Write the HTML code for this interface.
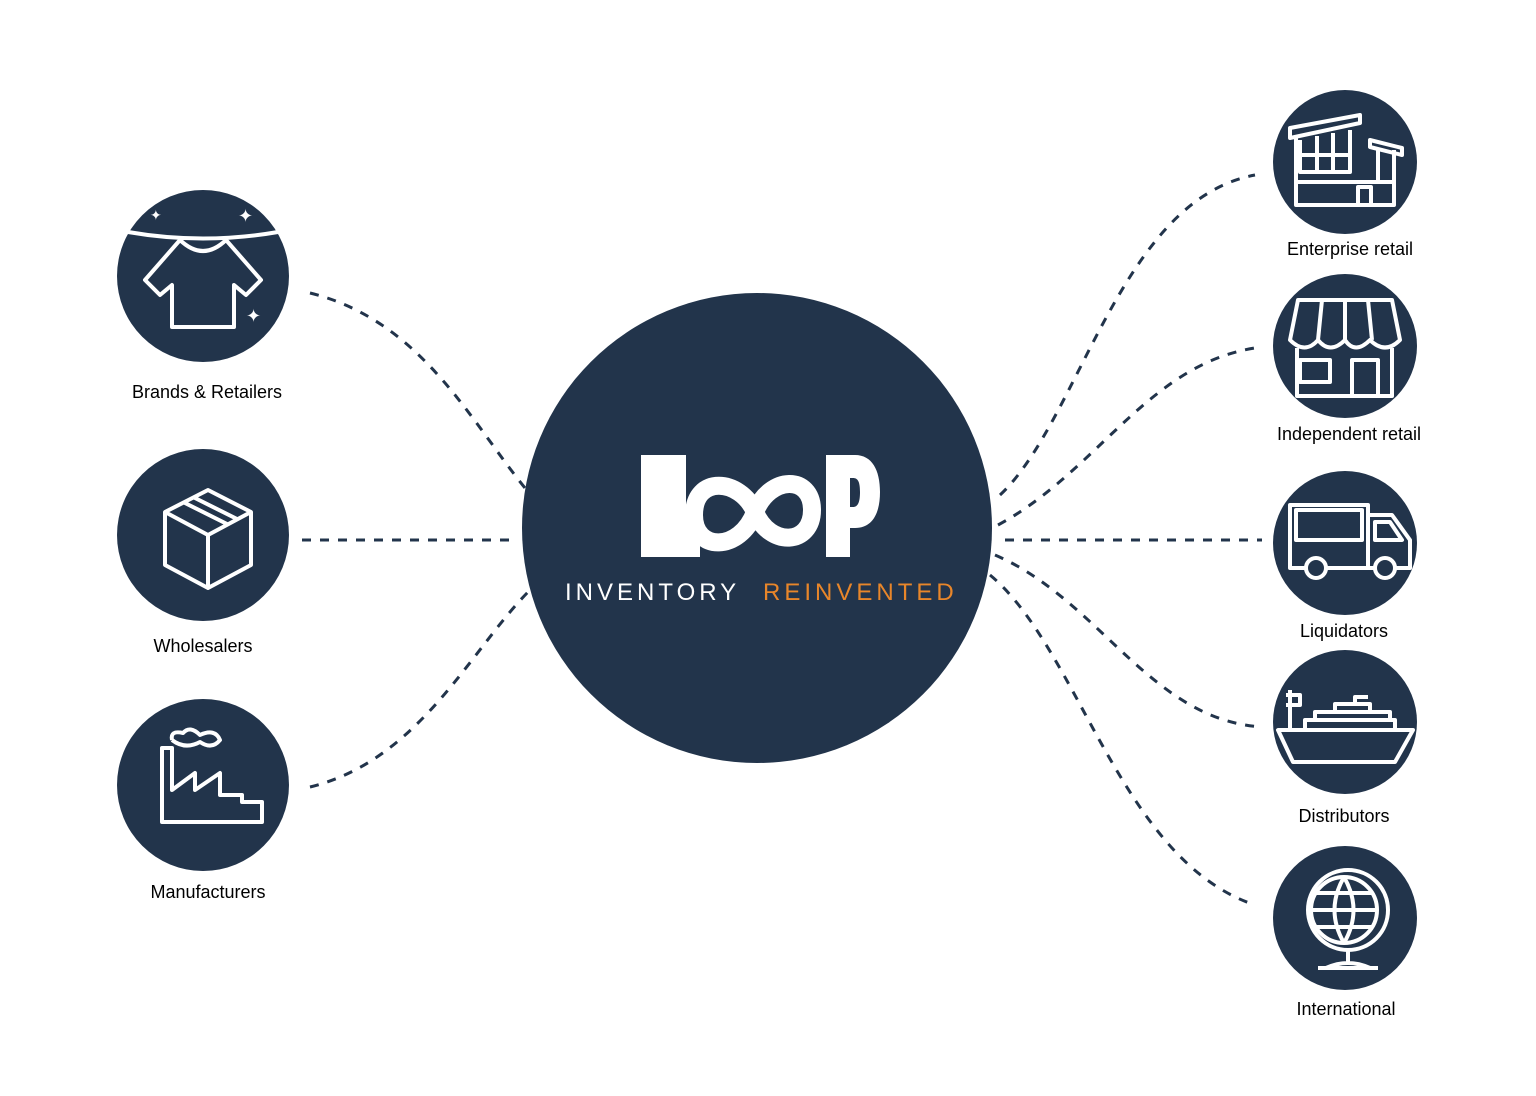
<!DOCTYPE html>
<html><head><meta charset="utf-8"><style>
html,body{margin:0;padding:0;background:#fff;width:1536px;height:1096px;overflow:hidden}
svg{display:block}
text{font-family:"Liberation Sans",sans-serif}
</style></head><body>
<svg width="1536" height="1096" viewBox="0 0 1536 1096" xmlns="http://www.w3.org/2000/svg">
<g fill="none" stroke="#22344b" stroke-width="3" stroke-dasharray="9 9">
<path d="M310 293 C420 320 470 420 525 488"/>
<path d="M302 540 L515 540"/>
<path d="M310 787 C420 760 470 650 530 590"/>
<path d="M1000 495 C1080 420 1120 200 1255 175"/>
<path d="M998 525 C1100 470 1150 360 1262 347"/>
<path d="M1005 540 L1262 540"/>
<path d="M995 555 C1100 600 1150 720 1262 727"/>
<path d="M990 575 C1080 650 1120 860 1255 905"/>
</g>
<circle cx="757" cy="528" r="235" fill="#22344b"/>
<!-- LOOP -->
<g fill="#fff">
<path d="M641 455 H686 V522 H700 V557 H641 Z"/>
<path d="M826 455 H855 C872 455 880 470 880 492 C880 514 872 528 855 528 H850 V557 H826 Z M850 478 V507 H853 C858 507 860 502 860 492 C860 482 858 478 853 478 Z" fill-rule="evenodd"/>
</g>
<path d="M755 512 C740 478 694 475 694 515 C694 552 740 552 755 512 C770 475 812 475 812 510 C812 545 770 548 755 512 Z" fill="none" stroke="#fff" stroke-width="18"/>
<text x="565" y="600" font-size="24" fill="#fff" letter-spacing="4">INVENTORY</text>
<text x="763" y="600" font-size="24" fill="#e8862a" letter-spacing="4">REINVENTED</text>
<g fill="#22344b">
<circle cx="203" cy="276" r="86"/><circle cx="203" cy="535" r="86"/><circle cx="203" cy="785" r="86"/>
<circle cx="1345" cy="162" r="72"/><circle cx="1345" cy="346" r="72"/><circle cx="1345" cy="543" r="72"/><circle cx="1345" cy="722" r="72"/><circle cx="1345" cy="918" r="72"/>
</g>
<g fill="none" stroke="#fff" stroke-width="4" stroke-linejoin="round">
<path d="M128 232 Q203 245 278 232"/>
<path d="M180 240 L145 280 L160 295 L172 285 L172 327 L234 327 L234 285 L246 295 L261 280 L226 240 Q203 262 180 240 Z"/>
<path d="M165 512 L208 490 L251 512 L251 565 L208 588 L165 565 Z M165 512 L208 535 L251 512 M208 535 V588 M183 502 L227 524 M193 497 L237 519"/>
<path d="M162 822 V748 L172 748 V790 L195 773 V790 L220 773 V795 L242 795 V802 L262 802 V822 Z"/>
<path d="M172 740 Q170 730 183 733 Q190 725 200 735 Q215 728 220 740 Q212 750 200 742 Q185 750 172 740"/>
<path d="M1290 128 L1360 115 V123 L1290 138 Z M1296 136 V205 H1394 V150 M1296 182 H1394 M1358 205 V187 H1371 V205 M1300 140 V172 H1350 V130 M1300 155 H1350 M1317 136 V172 M1333 133 V172 M1370 140 L1402 148 V155 L1370 147 Z M1378 150 V182"/>
<path d="M1298 300 H1392 L1400 340 Q1385 355 1370 340 Q1355 355 1345 340 Q1330 355 1318 340 Q1305 355 1290 340 Z M1322 300 L1318 340 M1345 300 V340 M1368 300 L1372 340 M1297 348 V396 H1392 V348 M1300 360 H1330 V382 H1300 Z M1352 396 V360 H1378 V396"/>
<path d="M1290 505 H1368 V568 H1290 Z M1296 510 H1362 V540 H1296 Z M1368 515 H1392 L1410 540 V568 H1368 M1375 522 H1390 L1402 540 H1375 Z"/>
<circle cx="1316" cy="568" r="10" fill="#22344b"/><circle cx="1385" cy="568" r="10" fill="#22344b"/>
<path d="M1278 730 H1413 L1395 762 H1293 Z M1290 730 V690 M1286 695 H1300 V705 H1286 M1305 730 V720 H1395 V730 M1315 720 V712 H1390 V720 M1335 712 V704 H1370 V712 M1355 704 V697 H1368"/>
<circle cx="1348" cy="910" r="40"/>
<circle cx="1344" cy="910" r="33"/>
<path d="M1344 877 Q1325 910 1344 943 M1344 877 Q1363 910 1344 943 M1311 910 H1377 M1315 893 H1373 M1315 927 H1373 M1348 950 V962 M1318 968 H1378 M1326 968 Q1348 958 1370 968"/>
</g>
<g fill="#fff" font-size="14"><text x="150" y="220">✦</text><text x="238" y="222" font-size="18">✦</text><text x="246" y="322" font-size="18">✦</text></g>
<g fill="#000" font-size="18" text-anchor="middle">
<text x="207" y="398">Brands &amp; Retailers</text>
<text x="203" y="652">Wholesalers</text>
<text x="208" y="898">Manufacturers</text>
<text x="1350" y="255">Enterprise retail</text>
<text x="1349" y="440">Independent retail</text>
<text x="1344" y="637">Liquidators</text>
<text x="1344" y="822">Distributors</text>
<text x="1346" y="1015">International</text>
</g>
</svg>
</body></html>
